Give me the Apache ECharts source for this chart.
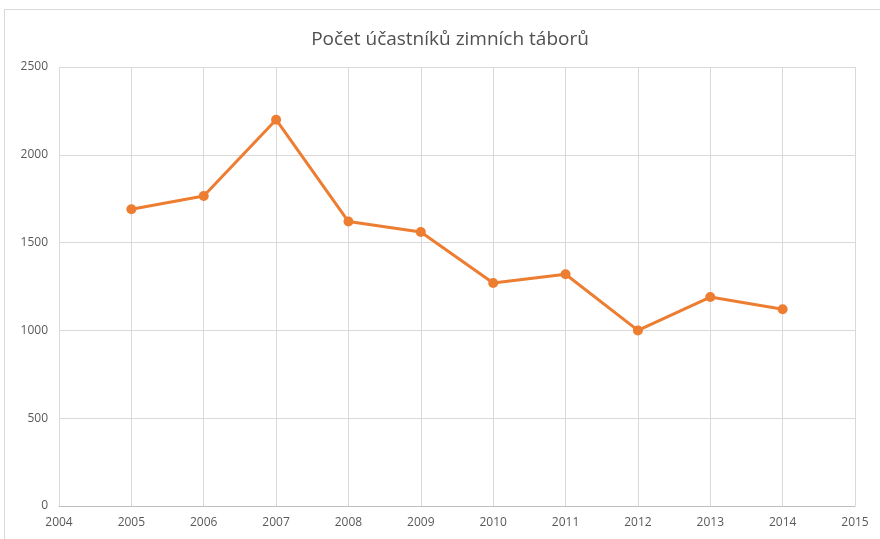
<!DOCTYPE html>
<html>
<head>
<meta charset="utf-8">
<script src="https://cdn.jsdelivr.net/npm/echarts@6/dist/echarts.min.js"></script>
<style>
	html, body { margin: 0; padding: 0; background: #fff; }
	#frame { position: absolute; left: 4px; top: 9px; width: 900px; height: 560px; border: 1px solid #d9d9d9; }
	#chart { position: absolute; left: 0; top: 0; width: 880px; height: 539px; }
</style>
</head>
<body>
<div id="frame"></div>
<div id="chart"></div>
<script>
	const years = [2005, 2006, 2007, 2008, 2009, 2010, 2011, 2012, 2013, 2014];
	const participants = [1690, 1765, 2200, 1620, 1560, 1270, 1320, 1000, 1190, 1120];
	const titleText = 'Počet účastníků zimních táborů';

	let myChart = echarts.init(document.getElementById('chart'));
	myChart.setOption({
		animation: false,
		title: {
			text: titleText,
			left: 445,
			top: 25,
			textAlign: 'center',
			textStyle: {
				fontFamily: 'Open Sans',
				fontSize: 19,
				fontWeight: 'normal',
				color: '#505050'
			}
		},
		grid: {
			left: 59,
			right: 25,
			top: 67,
			bottom: 33
		},
		xAxis: {
			type: 'value',
			min: 2004,
			max: 2015,
			interval: 1,
			axisLine: {
				show: true,
				lineStyle: { color: '#bfbfbf' }
			},
			axisTick: { show: false },
			axisLabel: {
				color: '#595959',
				fontFamily: 'Open Sans',
				fontSize: 12,
				margin: 11,
				formatter: v => String(v),
				showMinLabel: true,
				showMaxLabel: true
			},
			splitLine: {
				show: true,
				lineStyle: { color: '#d9d9d9' }
			}
		},
		yAxis: {
			type: 'value',
			min: 0,
			max: 2500,
			interval: 500,
			axisLine: { show: false },
			axisTick: { show: false },
			axisLabel: {
				color: '#595959',
				fontFamily: 'Open Sans',
				fontSize: 12,
				margin: 11,
				formatter: v => String(v)
			},
			splitLine: {
				show: true,
				lineStyle: { color: '#d9d9d9' }
			}
		},
		series: [
			{
				type: 'line',
				data: years.map((y, i) => [y, participants[i]]),
				symbol: 'circle',
				symbolSize: 10,
				lineStyle: { color: '#ed7d31', width: 3 },
				itemStyle: { color: '#ed7d31' }
			}
		]
	});
</script>
</body>
</html>
